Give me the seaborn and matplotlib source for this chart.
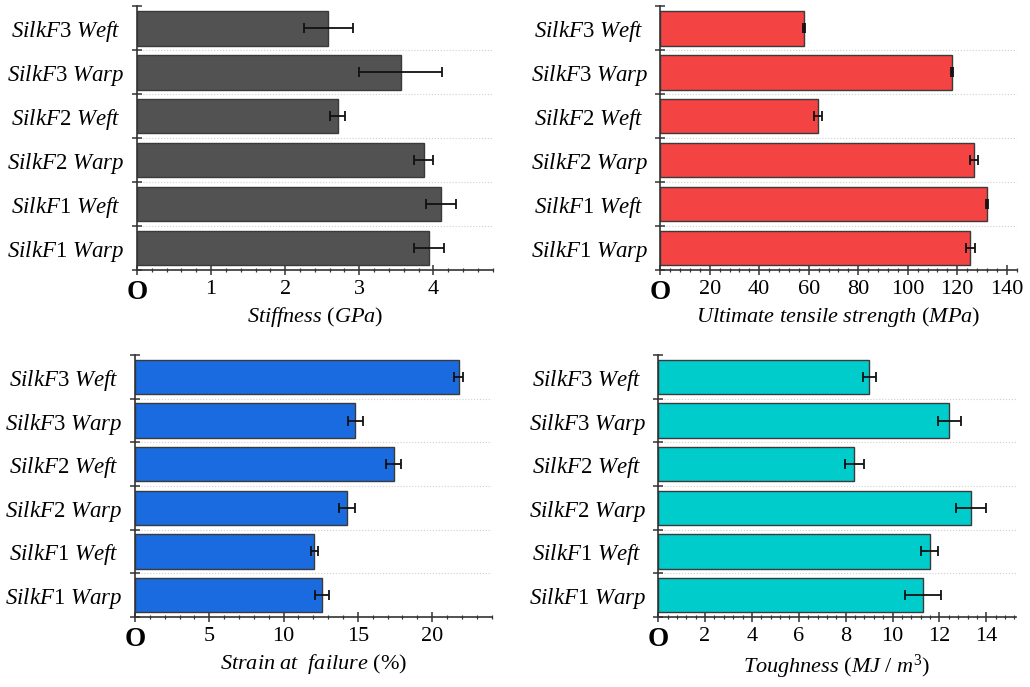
import numpy as np
import pandas as pd
import matplotlib
matplotlib.use("Agg")
import matplotlib.pyplot as plt
from matplotlib.ticker import AutoMinorLocator, FixedLocator
import seaborn as sns

labels = ["SilkF3 Weft", "SilkF3 Warp", "SilkF2 Weft", "SilkF2 Warp", "SilkF1 Weft", "SilkF1 Warp"]

stiffness = [2.58, 3.56, 2.71, 3.87, 4.10, 3.94]
stiffness_err = [0.33, 0.56, 0.10, 0.13, 0.20, 0.20]
strength = [58.0, 117.8, 63.7, 126.8, 131.9, 125.3]
strength_err = [0.5, 0.5, 1.7, 1.7, 0.4, 1.7]
strain = [21.8, 14.84, 17.4, 14.28, 12.08, 12.6]
strain_err = [0.3, 0.5, 0.5, 0.52, 0.23, 0.48]
toughness = [9.0, 12.42, 8.37, 13.34, 11.59, 11.31]
toughness_err = [0.28, 0.5, 0.41, 0.64, 0.36, 0.76]

sns.set_style("white")
plt.rcParams["font.family"] = ["Liberation Serif", "DejaVu Serif"]
plt.rcParams["mathtext.fontset"] = "custom"
plt.rcParams["mathtext.it"] = "Liberation Serif:italic"
plt.rcParams["mathtext.rm"] = "Liberation Serif"
plt.rcParams["mathtext.bf"] = "Liberation Serif:bold"
plt.rcParams["text.color"] = "black"
plt.rcParams["axes.labelcolor"] = "black"
plt.rcParams["xtick.color"] = "black"
plt.rcParams["ytick.color"] = "black"


def fmt_label(s):
    name, kind = s.split(" ")
    return r"$\mathit{%s}$%s $\mathit{%s}$" % (name[:-1], name[-1], kind)


panels = [
    (stiffness, stiffness_err, "#525252", r"$\mathit{Stiffness}$ ($\mathit{GPa}$)", 4.81, 1),
    (strength, strength_err, "#f44343", r"$\mathit{Ultimate\ tensile\ strength}$ ($\mathit{MPa}$)", 144, 20),
    (strain, strain_err, "#1a6bdf", r"$\mathit{Strain\ at\ \ failure}$ (%)", 24.05, 5),
    (toughness, toughness_err, "#00cccc", r"$\mathit{Toughness}$ ($\mathit{MJ\ /\ m}^3$)", 15.25, 2),
]

# axes boxes [left, bottom, width, height] in figure fractions
boxes = [
    [0.133, 0.607, 0.346, 0.384],
    [0.641, 0.607, 0.346, 0.384],
    [0.131, 0.102, 0.347, 0.381],
    [0.639, 0.102, 0.347, 0.381],
]

fig = plt.figure(figsize=(10.3, 6.87), dpi=100)

for (vals, errs, color, xlabel, xmax, step), box in zip(panels, boxes):
    ax = fig.add_axes(box)
    df = pd.DataFrame({"label": labels, "value": vals})
    sns.barplot(data=df, x="value", y="label", orient="h", color=color,
                width=0.79, edgecolor="#3a3a3a", linewidth=1.0,
                saturation=1, errorbar=None, ax=ax)
    centers = [p.get_y() + p.get_height() / 2 for p in ax.patches]
    ax.errorbar(vals, centers, xerr=errs, fmt="none", ecolor="#111111",
                elinewidth=1.3, capsize=3.5, capthick=1.3, zorder=5)

    ax.set_xlim(0, xmax)
    ax.set_ylim(len(labels) - 0.5, -0.5)
    sns.despine(ax=ax, top=True, right=True)
    for side in ["left", "bottom"]:
        ax.spines[side].set_color("#333333")
        ax.spines[side].set_linewidth(1.2)

    ticks = np.arange(0, xmax, step)
    ax.set_xticks(ticks)
    xt = ["O"] + [f"{t:g}" for t in ticks[1:]]
    ax.set_xticklabels(xt)
    ax.xaxis.set_minor_locator(AutoMinorLocator(5))
    ax.tick_params(axis="x", which="both", bottom=True)
    ax.tick_params(axis="x", which="major", direction="inout", length=7,
                   width=1.1, labelsize=16, pad=4, color="#333333")
    ax.tick_params(axis="x", which="minor", direction="inout", length=3.5,
                   width=0.9, color="#333333")
    first = ax.get_xticklabels()[0]
    first.set_fontweight("bold")
    first.set_fontsize(19.5)

    ax.set_yticks(range(len(labels)))
    ax.set_yticklabels([fmt_label(s) for s in labels])
    ax.yaxis.set_minor_locator(FixedLocator(np.arange(-0.5, len(labels), 1)))
    ax.tick_params(axis="y", which="both", left=True)
    ax.tick_params(axis="y", which="major", length=0, labelsize=16.5, pad=51)
    ax.tick_params(axis="y", which="minor", direction="inout", length=7,
                   width=1.1, color="#333333")
    for t in ax.get_yticklabels():
        t.set_ha("center")
    # faint dotted separators between categories
    ax.hlines(np.arange(0.5, len(labels) - 1, 1), 0, xmax, linestyles=":",
              colors="#cfcfcf", linewidth=0.8, zorder=0)

    ax.set_xlabel(xlabel, fontsize=16, labelpad=0)
    ax.set_ylabel("")

fig.savefig("out.png", dpi=100)
